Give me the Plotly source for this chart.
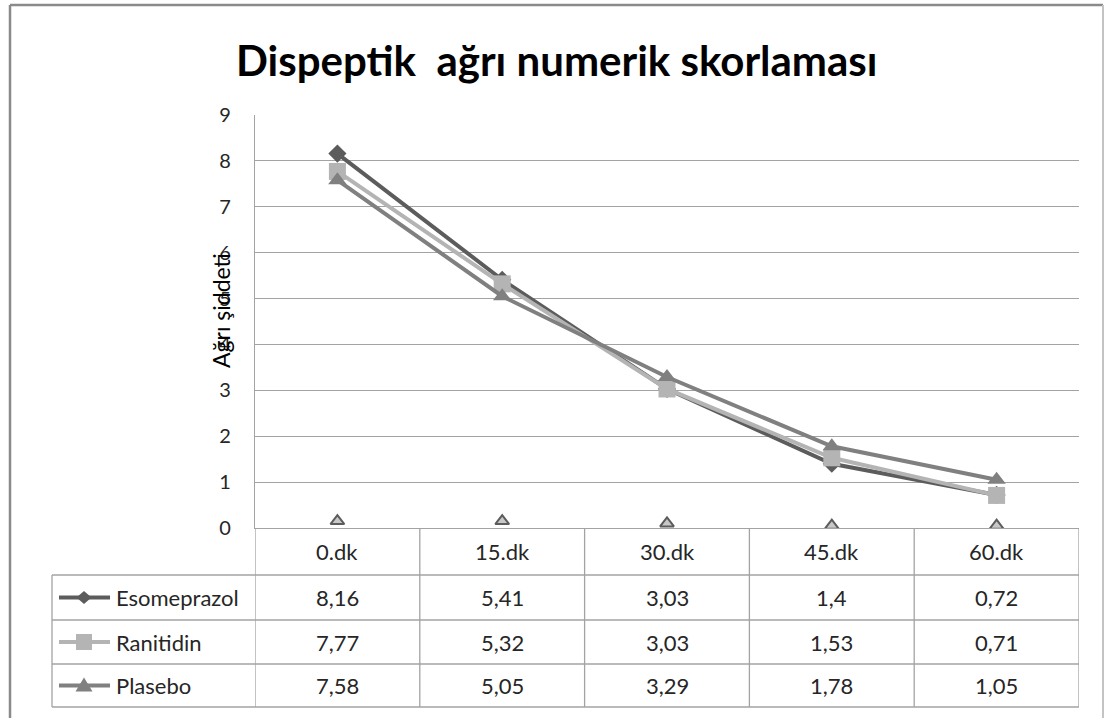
import plotly.graph_objects as go

# ---- data -------------------------------------------------------------
categories = ["0.dk", "15.dk", "30.dk", "45.dk", "60.dk"]
series_names = ["Esomeprazol", "Ranitidin", "Plasebo"]
esomeprazol = [8.16, 5.41, 3.03, 1.4, 0.72]
ranitidin = [7.77, 5.32, 3.03, 1.53, 0.71]
plasebo = [7.58, 5.05, 3.29, 1.78, 1.05]
baseline_marks = [0.15, 0.15, 0.1, 0.05, 0.05]
y_ticks = list(range(0, 10))
title_text = "Dispeptik\u00a0 ağrı numerik skorlaması"
y_title = "Ağrı şiddeti"

# ---- styling ----------------------------------------------------------
W, H = 1105, 718
FONT = "Lato"
GRID = "#a3a3a3"
TEXT = "#262626"
colors = ["#5c5c5c", "#b4b4b4", "#808080"]
symbols = ["diamond", "square", "triangle-up"]
sizes = [14, 17, 16]

# pixel helpers -> paper coordinates
def px(x):
    return x / W

def py(y):
    return 1 - y / H

PLOT_L, PLOT_R = 255, 1079
PLOT_T, PLOT_B = 115, 528
ROW_Y = [575, 620, 664, 707]        # table row borders
TABLE_L = 52

values = [esomeprazol, ranitidin, plasebo]
xs = list(range(len(categories)))

fig = go.Figure()

for name, vals, col, sym, sz in zip(series_names, values, colors, symbols, sizes):
    fig.add_trace(go.Scatter(
        x=xs, y=vals, name=name, mode="lines+markers",
        line=dict(color=col, width=4),
        marker=dict(symbol=sym, size=sz, color=col),
        showlegend=False,
    ))

fig.add_trace(go.Scatter(
    x=xs, y=baseline_marks, mode="markers", name="p",
    marker=dict(symbol="triangle-up", size=12, color="#c8c8c8",
                line=dict(color="#5c5c5c", width=2)),
    showlegend=False,
))

shapes = []
annotations = []

# outer chart frame
shapes.append(dict(type="line", xref="paper", yref="paper",
                   x0=px(10), x1=px(1103), y0=py(5), y1=py(5),
                   line=dict(color="#8a8a8a", width=2.5)))
shapes.append(dict(type="line", xref="paper", yref="paper",
                   x0=px(10), x1=px(10), y0=py(5), y1=py(730),
                   line=dict(color="#8a8a8a", width=2.5)))
shapes.append(dict(type="line", xref="paper", yref="paper",
                   x0=px(1103), x1=px(1103), y0=py(5), y1=py(730),
                   line=dict(color="#c4c4c4", width=2)))

# data table: vertical column borders follow category bands
for b in [i - 0.5 for i in range(len(categories) + 1)]:
    shapes.append(dict(type="line", xref="x", yref="paper",
                       x0=b, x1=b, y0=py(PLOT_B), y1=py(ROW_Y[-1]),
                       line=dict(color=GRID, width=1.3)))
# left border of the label column
shapes.append(dict(type="line", xref="paper", yref="paper",
                   x0=px(TABLE_L), x1=px(TABLE_L), y0=py(ROW_Y[0]), y1=py(ROW_Y[-1]),
                   line=dict(color=GRID, width=1.3)))
# horizontal row borders
for ry in ROW_Y:
    shapes.append(dict(type="line", xref="paper", yref="paper",
                       x0=px(TABLE_L), x1=px(PLOT_R), y0=py(ry), y1=py(ry),
                       line=dict(color=GRID, width=1.3)))

CELL_FONT = dict(family=FONT, size=22, color=TEXT)

# header labels
for i, cat in enumerate(categories):
    annotations.append(dict(x=i, y=py((PLOT_B + ROW_Y[0]) / 2), xref="x", yref="paper",
                            text=cat, showarrow=False, font=CELL_FONT,
                            xanchor="center", yanchor="middle"))

# table rows: legend key, series name, values
for r, (name, vals, col) in enumerate(zip(series_names, values, colors)):
    cy = (ROW_Y[r] + ROW_Y[r + 1]) / 2
    shapes.append(dict(type="line", xref="paper", yref="paper",
                       x0=px(59), x1=px(110), y0=py(cy), y1=py(cy),
                       line=dict(color=col, width=4)))
    mx = 84
    if r == 0:
        path = (f"M {px(mx - 7.5)} {py(cy)} L {px(mx)} {py(cy - 6.5)} "
                f"L {px(mx + 7.5)} {py(cy)} L {px(mx)} {py(cy + 6.5)} Z")
    elif r == 1:
        path = (f"M {px(mx - 8)} {py(cy - 8)} L {px(mx + 8)} {py(cy - 8)} "
                f"L {px(mx + 8)} {py(cy + 8)} L {px(mx - 8)} {py(cy + 8)} Z")
    else:
        path = (f"M {px(mx - 8.5)} {py(cy + 6)} L {px(mx)} {py(cy - 8)} "
                f"L {px(mx + 8.5)} {py(cy + 6)} Z")
    shapes.append(dict(type="path", xref="paper", yref="paper", path=path,
                       fillcolor=col, line=dict(color=col, width=0)))
    annotations.append(dict(x=px(114), y=py(cy), xref="paper", yref="paper",
                            text=name, showarrow=False, font=CELL_FONT,
                            xanchor="left", yanchor="middle"))
    for i, v in enumerate(vals):
        annotations.append(dict(x=i, y=py(cy), xref="x", yref="paper",
                                text=f"{v:g}".replace(".", ","), showarrow=False,
                                font=CELL_FONT, xanchor="center", yanchor="middle"))

# title and axis title
annotations.append(dict(x=px(557), y=py(60), xref="paper", yref="paper",
                        text=f"<b>{title_text}</b>", showarrow=False,
                        font=dict(family=FONT, size=42, color="#000000"),
                        xanchor="center", yanchor="middle"))
annotations.append(dict(x=px(221), y=py(311), xref="paper", yref="paper",
                        text=y_title, textangle=-90, showarrow=False,
                        font=dict(family=FONT, size=23, color="#000000"),
                        xanchor="center", yanchor="middle"))

fig.update_layout(
    width=W, height=H,
    margin=dict(l=0, r=0, t=0, b=0, pad=0, autoexpand=False),
    paper_bgcolor="white", plot_bgcolor="white",
    shapes=shapes, annotations=annotations,
    showlegend=False,
    xaxis=dict(domain=[px(PLOT_L), px(PLOT_R)], range=[-0.5, len(categories) - 0.5],
               showticklabels=False, showgrid=False, zeroline=False, automargin=False,
               showline=True, linecolor=GRID, linewidth=1.3, fixedrange=True),
    yaxis=dict(domain=[py(PLOT_B), py(PLOT_T)], range=[0, 9],
               tickvals=y_ticks, ticktext=[str(t) for t in y_ticks],
               tickfont=dict(family=FONT, size=20, color=TEXT),
               ticks="", ticklabelstandoff=19, automargin=False,
               showgrid=True, gridcolor=GRID, gridwidth=1.3, zeroline=False,
               showline=True, linecolor=GRID, linewidth=1.3, fixedrange=True),
)

fig.write_html("out.html")
